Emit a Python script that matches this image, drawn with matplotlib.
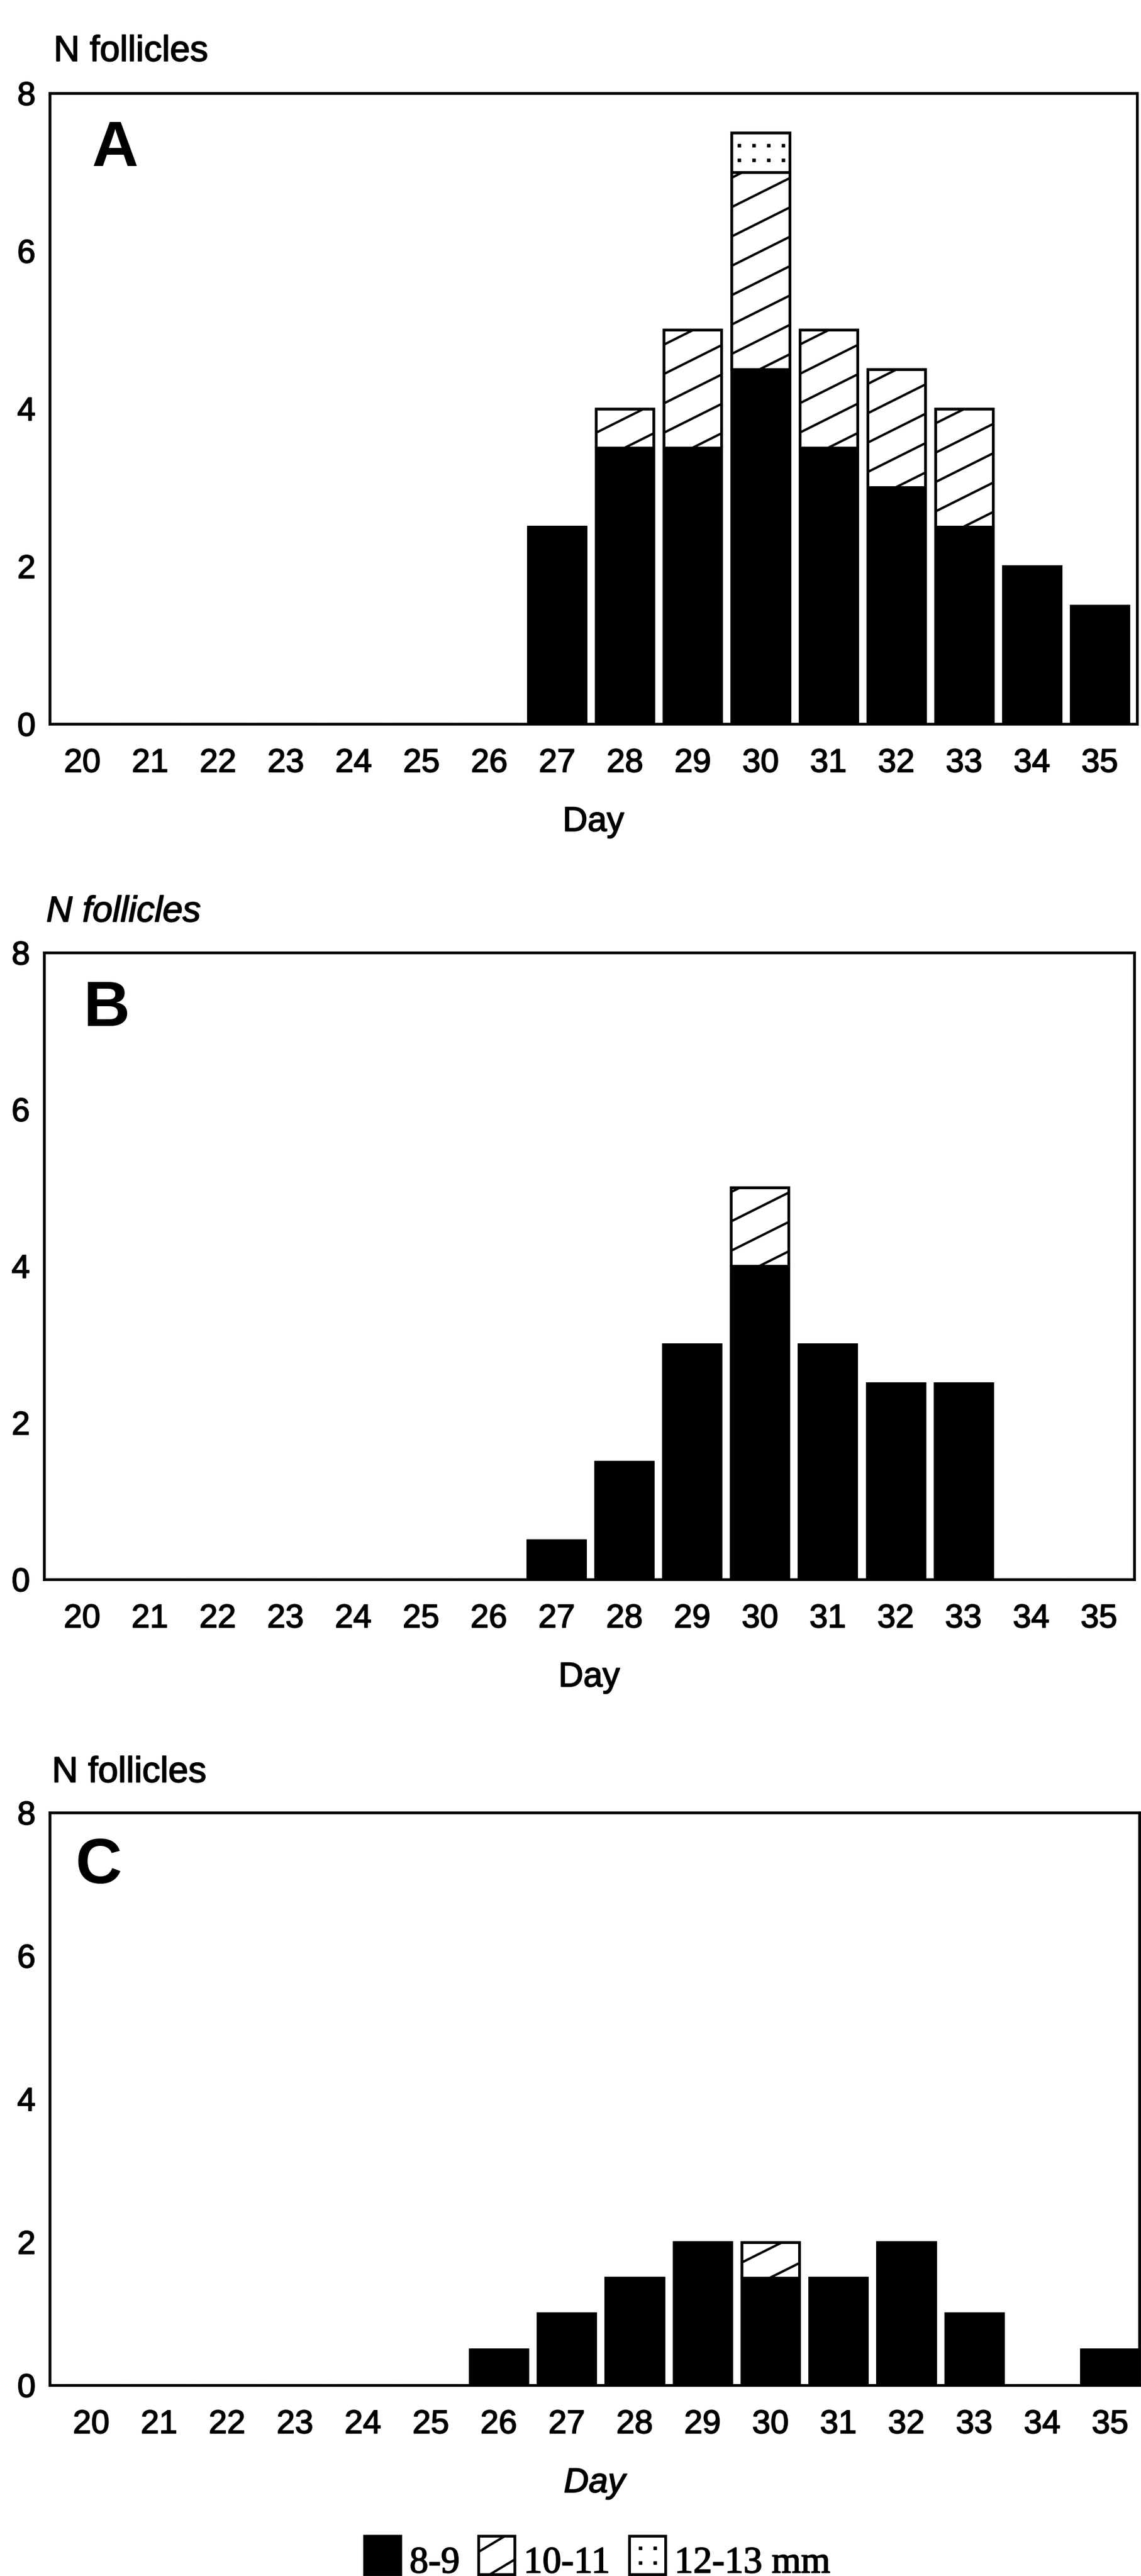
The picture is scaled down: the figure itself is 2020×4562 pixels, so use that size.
import numpy as np
import matplotlib
matplotlib.use('Agg')
from matplotlib import pyplot as plt
from matplotlib import patheffects
from matplotlib.patches import Rectangle

# data: number of follicles per size class and day
days = list(range(20, 36))
size_classes = ['8-9', '10-11', '12-13 mm']
panel_letters = ['A', 'B', 'C']
y_ticks = [0, 2, 4, 6, 8]

a_small = [0, 0, 0, 0, 0, 0, 0, 2.5, 3.5, 3.5, 4.5, 3.5, 3, 2.5, 2, 1.5]
a_mid = [0, 0, 0, 0, 0, 0, 0, 0, 0.5, 1.5, 2.5, 1.5, 1.5, 1.5, 0, 0]
a_large = [0, 0, 0, 0, 0, 0, 0, 0, 0, 0, 0.5, 0, 0, 0, 0, 0]

b_small = [0, 0, 0, 0, 0, 0, 0, 0.5, 1.5, 3, 4, 3, 2.5, 2.5, 0, 0]
b_mid = [0, 0, 0, 0, 0, 0, 0, 0, 0, 0, 1, 0, 0, 0, 0, 0]
b_large = [0] * 16

c_small = [0, 0, 0, 0, 0, 0, 0.5, 1, 1.5, 2, 1.5, 1.5, 2, 1, 0, 0.5]
c_mid = [0, 0, 0, 0, 0, 0, 0, 0, 0, 0, 0.5, 0, 0, 0, 0, 0]
c_large = [0] * 16

W, H = 2020, 4562
plt.rcParams['font.family'] = ['Liberation Sans', 'DejaVu Sans']
# the scanned print has heavy strokes, thicken the text a little
heavy = [patheffects.withStroke(linewidth=1.3, foreground='black')]

fig = plt.figure(figsize=(W / 100, H / 100), dpi=100)


def px_rect(left, top, right, bottom):
    return [left / W, 1 - bottom / H, (right - left) / W, (bottom - top) / H]


def hatch_patch(ax, patch, gap_px=52, slope=0.5, lw=3.0):
    h = patch.get_height()
    if h <= 0:
        return
    p0 = ax.transData.transform((0, 0))
    p1 = ax.transData.transform((1, 1))
    sx, sy = p1 - p0
    x0, y0, w = patch.get_x(), patch.get_y(), patch.get_width()
    k = slope * sx / sy
    step = gap_px / sy
    xs = np.array([x0, x0 + w])
    for c in np.arange(y0 - k * w + step * 0.5, y0 + h, step):
        line, = ax.plot(xs, c + k * (xs - x0), color='black', lw=lw,
                        solid_capstyle='butt', zorder=3)
        line.set_clip_path(patch)


def dot_patch(ax, patch, gap_px=26, ms=3.6):
    h = patch.get_height()
    if h <= 0:
        return
    p0 = ax.transData.transform((0, 0))
    p1 = ax.transData.transform((1, 1))
    sx, sy = p1 - p0
    x0, y0, w = patch.get_x(), patch.get_y(), patch.get_width()
    nx = max(1, int(round(w * sx / gap_px)))
    ny = max(1, int(h * sy // gap_px))
    xs = x0 + (w - (nx - 1) * gap_px / sx) / 2 + np.arange(nx) * gap_px / sx
    ys = y0 + (h - (ny - 1) * gap_px / sy) / 2 + np.arange(ny) * gap_px / sy
    gx, gy = np.meshgrid(xs, ys)
    pts, = ax.plot(gx.ravel(), gy.ravel(), 's', color='black', ms=ms, zorder=3)
    pts.set_clip_path(patch)


panels = [
    dict(data=(a_small, a_mid, a_large), box=(88, 165, 2013, 1282), xlim=(19.52, 35.55),
         ylab=(95, 108), ylab_style='normal', day_style='normal', letter=(0.0384, 0.958)),
    dict(data=(b_small, b_mid, b_large), box=(78, 1687, 2008, 2797), xlim=(19.44, 35.52),
         ylab=(82, 1632), ylab_style='italic', day_style='normal', letter=(0.0358, 0.957)),
    dict(data=(c_small, c_mid, c_large), box=(88, 3210, 2017, 4224), xlim=(19.39, 35.43),
         ylab=(92, 3156), ylab_style='normal', day_style='italic', letter=(0.0233, 0.958)),
]

bar_w = 0.85
edge_lw = 3.5

for letter, p in zip(panel_letters, panels):
    ax = fig.add_axes(px_rect(*p['box']))
    ax.set_xlim(*p['xlim'])
    ax.set_ylim(0, 8)
    small, mid, large = [np.array(v, dtype=float) for v in p['data']]

    ax.bar(days, small, width=bar_w, color='black', edgecolor='black', lw=edge_lw, zorder=2)
    mid_bars = ax.bar(days, mid, width=bar_w, bottom=small, color='white',
                      edgecolor='black', lw=edge_lw, zorder=2)
    large_bars = ax.bar(days, large, width=bar_w, bottom=small + mid, color='white',
                        edgecolor='black', lw=edge_lw, zorder=2)
    for b in mid_bars:
        hatch_patch(ax, b)
    for b in large_bars:
        dot_patch(ax, b)

    ax.set_xticks(days)
    ax.set_xticklabels([str(d) for d in days])
    ax.set_yticks(y_ticks)
    ax.tick_params(axis='x', length=0, pad=31, labelsize=42)
    ax.tick_params(axis='y', length=0, pad=18, labelsize=42)
    for t in ax.get_xticklabels() + ax.get_yticklabels():
        t.set_path_effects(heavy)
    for s in ax.spines.values():
        s.set_linewidth(edge_lw)
        s.set_zorder(4)
    xl = ax.set_xlabel('Day', fontsize=44, labelpad=35, fontstyle=p['day_style'])
    xl.set_path_effects(heavy)
    ax.text(p['letter'][0], p['letter'][1], letter, transform=ax.transAxes,
            fontsize=82, fontweight='bold', ha='left', va='top')
    fig.text(p['ylab'][0] / W, 1 - p['ylab'][1] / H, 'N follicles', fontsize=46,
             fontstyle=p['ylab_style'], ha='left', va='baseline', path_effects=heavy)

# legend drawn in its own strip at the bottom, in pixel units
lax = fig.add_axes([0, 0, 1, 122 / H])
lax.set_xlim(0, W)
lax.set_ylim(0, 122)
lax.axis('off')
legend_x = [645, 847, 1114]
fills = ['black', 'white', 'white']
for i, (lx, fc, label) in enumerate(zip(legend_x, fills, size_classes)):
    r = Rectangle((lx, 3), 64, 68, facecolor=fc, edgecolor='black', lw=edge_lw)
    lax.add_patch(r)
    if i == 1:
        hatch_patch(lax, r, gap_px=52, slope=0.6)
    if i == 2:
        dot_patch(lax, r)
    lax.text(lx + 80, 6, label, fontsize=48, family=['Liberation Serif', 'DejaVu Serif'],
             ha='left', va='baseline', path_effects=heavy)

fig.savefig('out.png', dpi=100)
